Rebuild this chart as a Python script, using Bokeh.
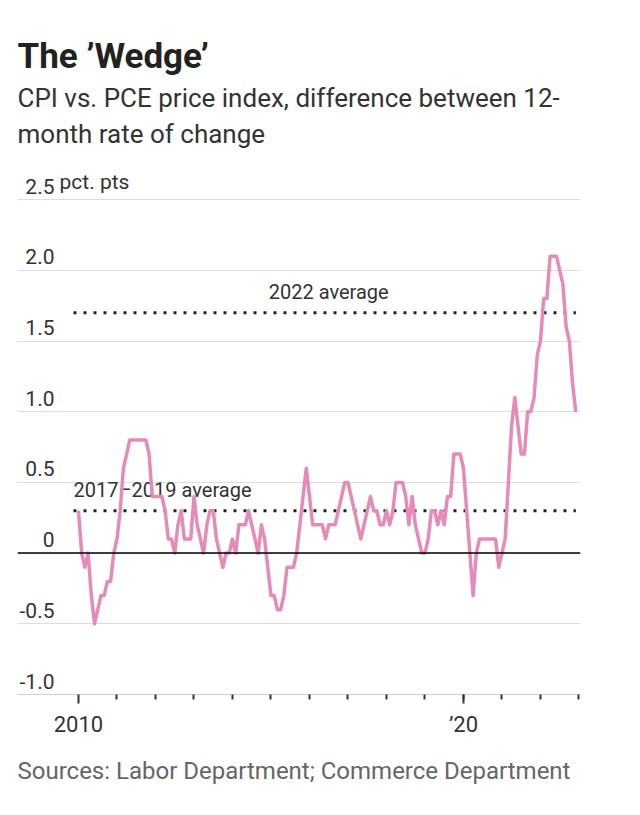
from bokeh.plotting import figure
from bokeh.models import FixedTicker, Span, ColumnDataSource, Range1d, Title
from bokeh.core.properties import value
from bokeh.embed import file_html
from bokeh.resources import INLINE

# ---- data (monthly, starting Jan 2010) ----
start_year = 2010
wedge = [
    0.3, 0.0, -0.1, 0.0, -0.3, -0.5, -0.4, -0.3, -0.3, -0.2, -0.2, 0.0,   # 2010
    0.1, 0.3, 0.6, 0.7, 0.8, 0.8, 0.8, 0.8, 0.8, 0.8, 0.7, 0.4,          # 2011
    0.4, 0.4, 0.4, 0.3, 0.1, 0.1, 0.0, 0.2, 0.3, 0.1, 0.1, 0.1,          # 2012
    0.4, 0.2, 0.1, 0.0, 0.2, 0.3, 0.3, 0.1, 0.0, -0.1, 0.0, 0.0,         # 2013
    0.1, 0.0, 0.2, 0.2, 0.2, 0.3, 0.2, 0.1, 0.0, 0.2, 0.1, -0.1,         # 2014
    -0.3, -0.3, -0.4, -0.4, -0.3, -0.1, -0.1, -0.1, 0.0, 0.2, 0.4, 0.6,  # 2015
    0.4, 0.2, 0.2, 0.2, 0.2, 0.1, 0.2, 0.2, 0.2, 0.3, 0.4, 0.5,          # 2016
    0.5, 0.4, 0.3, 0.2, 0.1, 0.2, 0.3, 0.4, 0.3, 0.3, 0.2, 0.2,          # 2017
    0.3, 0.2, 0.3, 0.5, 0.5, 0.5, 0.4, 0.2, 0.4, 0.2, 0.1, 0.0,          # 2018
    0.0, 0.1, 0.3, 0.3, 0.2, 0.3, 0.2, 0.4, 0.4, 0.7, 0.7, 0.7,          # 2019
    0.6, 0.3, 0.0, -0.3, 0.0, 0.1, 0.1, 0.1, 0.1, 0.1, 0.1, -0.1,        # 2020
    0.0, 0.1, 0.5, 0.9, 1.1, 0.9, 0.7, 0.7, 1.0, 1.0, 1.1, 1.4,          # 2021
    1.5, 1.8, 1.8, 2.1, 2.1, 2.1, 2.0, 1.9, 1.6, 1.5, 1.2, 1.0,          # 2022
]
dates = [start_year + m / 12 for m in range(len(wedge))]

avg_labels = ["2022 average", "2017\u20132019 average"]
avg_values = [1.7, 0.3]

y_ticks = [-1.0, -0.5, 0.0, 0.5, 1.0, 1.5, 2.0, 2.5]
y_tick_labels = ["-1.0", "-0.5", "0", "0.5", "1.0", "1.5", "2.0", "2.5"]
y_unit = "pct. pts"

x_major_ticks = [2010, 2020]
x_major_labels = ["2010", "\u201920"]
x_minor_ticks = list(range(2011, 2024))

title_text = "The \u2019Wedge\u2019"
subtitle_lines = ["CPI vs. PCE price index, difference between 12-",
                  "month rate of change"]
source_text = "Sources: Labor Department; Commerce Department"

# ---- layout constants ----
FONT = "Roboto"
PINK = "#e68ab7"
X0, X1 = 2008.416, 2023.04
Y0, Y1 = -1.0, 2.72

p = figure(width=640, height=815, output_backend="svg", toolbar_location=None,
           x_range=Range1d(X0, X1), y_range=Range1d(Y0, Y1),
           min_border_left=17, min_border_right=60,
           min_border_top=168, min_border_bottom=121,
           y_axis_location=None, title=None)
p.outline_line_color = None
p.background_fill_color = "white"
p.border_fill_color = "white"

p.xgrid.visible = False
p.ygrid.ticker = FixedTicker(ticks=y_ticks)
p.ygrid.grid_line_color = "#dcdcdc"
p.ygrid.grid_line_width = 1

ax = p.xaxis[0]
ax.ticker = FixedTicker(ticks=x_major_ticks, minor_ticks=x_minor_ticks)
ax.major_label_overrides = {t: l for t, l in zip(x_major_ticks, x_major_labels)}
ax.axis_line_color = "#d0d0d0"
ax.axis_line_width = 1
ax.major_tick_in = 0
ax.major_tick_out = 9
ax.minor_tick_in = 0
ax.minor_tick_out = 5
ax.major_tick_line_color = "#333333"
ax.minor_tick_line_color = "#333333"
ax.major_tick_line_width = 2
ax.minor_tick_line_width = 2
ax.major_label_standoff = 8
ax.major_label_text_font = FONT
ax.major_label_text_font_size = "22px"
ax.major_label_text_color = "#333333"

# zero line
p.add_layout(Span(location=0, dimension="width", line_color="black", line_width=1.5))

# y tick labels
ysrc = ColumnDataSource(dict(x=[X0] * len(y_ticks), y=y_ticks, t=y_tick_labels))
p.text(x="x", y="y", text="t", source=ysrc, x_offset=37, y_offset=-6,
       text_align="right", text_baseline="bottom", text_font=value(FONT),
       text_font_size="21px", text_color="#333333")
p.text(x=[X0], y=[y_ticks[-1]], text=[y_unit], x_offset=42, y_offset=-6,
       text_align="left", text_baseline="bottom", text_font=value(FONT),
       text_font_size="21px", text_color="#333333")

# average lines
avg_x0, avg_x1 = 2009.87, 2022.92
for v in avg_values:
    p.line(x=[avg_x0, avg_x1], y=[v, v], line_color="#222222", line_width=3,
           line_dash="3 7")
p.text(x=[2016.5], y=[avg_values[0]], text=[avg_labels[0]], y_offset=-9,
       text_align="center", text_baseline="bottom", text_font=value(FONT),
       text_font_size="20px", text_color="#333333")
p.text(x=[avg_x0], y=[avg_values[1]], text=[avg_labels[1]], y_offset=-9,
       text_align="left", text_baseline="bottom", text_font=value(FONT),
       text_font_size="20px", text_color="#333333")

# main line
p.line(x=dates, y=wedge, line_color=PINK, line_width=3.5, line_join="round")

# titles (stacked upward from the frame) and source (below the axis)
p.add_layout(Title(text=" ", text_font=FONT, text_font_size="1px",
                   align="left", standoff=17), "above")          # spacer
p.add_layout(Title(text="\n".join(subtitle_lines), text_font=FONT,
                   text_font_size="26px", text_font_style="normal",
                   text_color="#333333", text_line_height=1.2,
                   align="left", standoff=0), "above")
p.add_layout(Title(text=title_text, text_font=FONT, text_font_size="35px",
                   text_font_style="bold", text_color="#222222",
                   align="left", standoff=8), "above")
p.add_layout(Title(text=source_text, text_font=FONT, text_font_size="24px",
                   text_font_style="normal", text_color="#666666",
                   align="left", standoff=30), "below")

open("out.html", "w").write(file_html(p, INLINE))
